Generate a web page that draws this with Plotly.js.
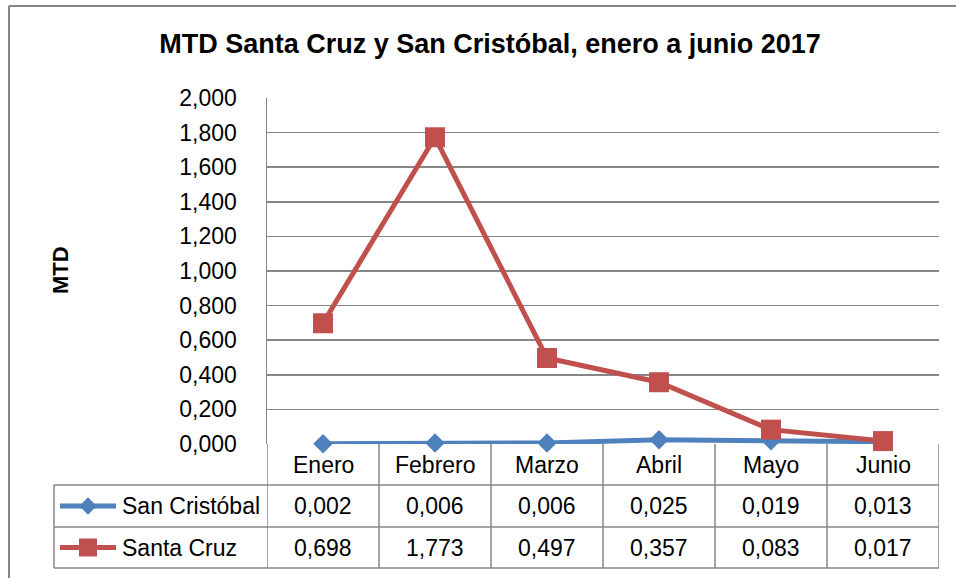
<!DOCTYPE html>
<html>
<head>
<meta charset="utf-8">
<script src="https://cdn.plot.ly/plotly-3.0.1.min.js"></script>
<style>html,body{margin:0;padding:0;background:#fff;}#chart{width:956px;height:578px;}</style>
</head>
<body>
<div id="chart"></div>
<script>
const categories = ['Enero', 'Febrero', 'Marzo', 'Abril', 'Mayo', 'Junio'];
const seriesNames = ['San Cristóbal', 'Santa Cruz'];
const sanCristobal = [0.002, 0.006, 0.006, 0.025, 0.019, 0.013];
const santaCruz = [0.698, 1.773, 0.497, 0.357, 0.083, 0.017];
const chartTitle = 'MTD Santa Cruz y San Cristóbal, enero a junio 2017';
const yTitle = 'MTD';

const W = 956, H = 578;
const px = x => x / W;
const py = y => 1 - y / H;
const FONT = 'Liberation Sans, Arial, sans-serif';
const GRAY = '#868686';
const BLUE = '#4F81BD';
const RED = '#C0504D';
const seriesValues = [sanCristobal, santaCruz];
const seriesColors = [BLUE, RED];
const seriesSymbols = ['diamond', 'square'];
const seriesSizes = [15, 20];

const fmt = v => v.toFixed(3).replace('.', ',');

// table geometry (pixels)
const tTop = 444, r1 = 485, r2 = 527, tBot = 568, tLeft = 54, tRight = 939;
const rowCenters = [(r1 + r2) / 2, (r2 + tBot) / 2];

const traces = seriesNames.map((name, i) => ({
  type: 'scatter', mode: 'lines+markers', name: name,
  x: categories, y: seriesValues[i],
  line: {color: seriesColors[i], width: 5},
  marker: {symbol: seriesSymbols[i], size: seriesSizes[i], color: seriesColors[i]},
  cliponaxis: false, showlegend: false,
  xaxis: 'x', yaxis: 'y'
}));

// legend keys inside the data table
seriesNames.forEach((name, i) => {
  traces.push({
    type: 'scatter', mode: 'lines',
    x: [60, 116], y: [rowCenters[i], rowCenters[i]],
    line: {color: seriesColors[i], width: 5},
    showlegend: false, hoverinfo: 'skip',
    xaxis: 'x2', yaxis: 'y2'
  });
  traces.push({
    type: 'scatter', mode: 'markers',
    x: [88], y: [rowCenters[i]],
    marker: {symbol: seriesSymbols[i], size: seriesSizes[i] * 0.9, color: seriesColors[i]},
    showlegend: false, hoverinfo: 'skip',
    xaxis: 'x2', yaxis: 'y2'
  });
});

const shapes = [];
const lineStyle = {color: GRAY, width: 1.5};
// outer chart border
shapes.push({type: 'line', xref: 'paper', yref: 'paper', x0: px(9), x1: px(9), y0: py(6), y1: py(578), line: {color: GRAY, width: 2}});
shapes.push({type: 'line', xref: 'paper', yref: 'paper', x0: px(9), x1: px(956), y0: py(6), y1: py(6), line: {color: GRAY, width: 2}});
// table vertical lines at category boundaries
for (let i = 0; i <= categories.length; i++) {
  shapes.push({type: 'line', xref: 'x', yref: 'paper', x0: i - 0.5, x1: i - 0.5, y0: py(tTop), y1: py(tBot), line: lineStyle});
}
// legend column left border
shapes.push({type: 'line', xref: 'paper', yref: 'paper', x0: px(tLeft), x1: px(tLeft), y0: py(r1), y1: py(tBot), line: lineStyle});
// horizontal rules
[r1, r2, tBot].forEach(y => {
  shapes.push({type: 'line', xref: 'paper', yref: 'paper', x0: px(tLeft), x1: px(tRight), y0: py(y), y1: py(y), line: lineStyle});
});

const annotations = [];
const cellFont = {family: FONT, size: 23, color: '#000'};
// header row with category names
categories.forEach(c => {
  annotations.push({x: c, xref: 'x', y: py((tTop + r1) / 2), yref: 'paper', text: c, showarrow: false, xanchor: 'center', yanchor: 'middle', font: cellFont});
});
// value rows
seriesNames.forEach((name, i) => {
  annotations.push({x: px(120), xref: 'paper', y: py(rowCenters[i]), yref: 'paper', text: name, showarrow: false, xanchor: 'left', yanchor: 'middle', font: cellFont});
  categories.forEach((c, j) => {
    annotations.push({x: c, xref: 'x', y: py(rowCenters[i]), yref: 'paper', text: fmt(seriesValues[i][j]), showarrow: false, xanchor: 'center', yanchor: 'middle', font: cellFont});
  });
});
// y axis title
annotations.push({x: px(60), xref: 'paper', y: py(270), yref: 'paper', text: '<b>' + yTitle + '</b>', textangle: -90, showarrow: false, xanchor: 'center', yanchor: 'middle', font: {family: FONT, size: 22, color: '#000'}});

const layout = {
  width: W, height: H,
  margin: {l: 0, r: 0, t: 0, b: 0},
  paper_bgcolor: '#fff', plot_bgcolor: 'rgba(0,0,0,0)',
  separators: ',.',
  font: {family: FONT, color: '#000'},
  title: {text: '<b>' + chartTitle + '</b>', x: px(490), xref: 'paper', xanchor: 'center', y: py(44), yref: 'paper', yanchor: 'middle', font: {family: FONT, size: 27, color: '#000'}},
  xaxis: {
    domain: [px(267), px(939)], type: 'category', range: [-0.5, categories.length - 0.5],
    showticklabels: false, showgrid: false, zeroline: false, showline: false, ticks: '', fixedrange: true
  },
  yaxis: {
    domain: [py(444), py(98)], range: [0, 2], dtick: 0.2, tick0: 0, tickformat: '.3f',
    showgrid: true, gridcolor: GRAY, gridwidth: 1.5, zeroline: false,
    showline: true, linecolor: GRAY, linewidth: 1.5, ticks: '', ticklabelstandoff: 24,
    tickfont: {family: FONT, size: 23, color: '#000'}, fixedrange: true
  },
  xaxis2: {domain: [0, 1], range: [0, W], visible: false, fixedrange: true, anchor: 'y2'},
  yaxis2: {domain: [0, 1], range: [H, 0], visible: false, fixedrange: true, anchor: 'x2'},
  shapes: shapes,
  annotations: annotations
};

Plotly.newPlot('chart', traces, layout, {displayModeBar: false, staticPlot: true});
</script>
</body>
</html>
